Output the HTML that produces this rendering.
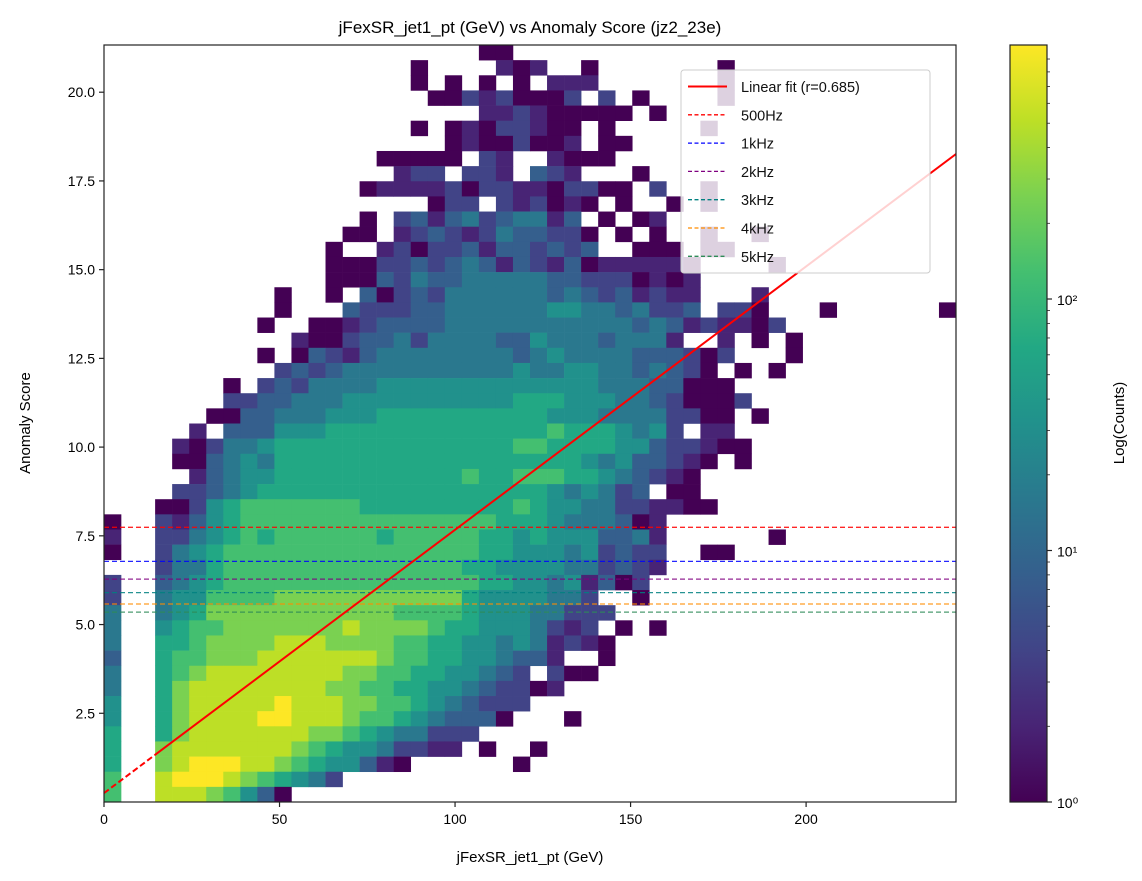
<!DOCTYPE html>
<html><head><meta charset="utf-8">
<style>
html,body{margin:0;padding:0;background:#fff;}
svg{display:block;font-family:"Liberation Sans","DejaVu Sans",sans-serif;}
</style></head>
<body>
<svg id="chart" width="1142" height="881" viewBox="0 0 1142 881" xmlns="http://www.w3.org/2000/svg">
<defs>
<linearGradient id="vir" x1="0" y1="1" x2="0" y2="0">
<stop offset="0" stop-color="#440154"/><stop offset="0.1" stop-color="#482475"/>
<stop offset="0.2" stop-color="#414487"/><stop offset="0.3" stop-color="#355f8d"/>
<stop offset="0.4" stop-color="#2a788e"/><stop offset="0.5" stop-color="#21918c"/>
<stop offset="0.6" stop-color="#22a884"/><stop offset="0.7" stop-color="#44bf70"/>
<stop offset="0.8" stop-color="#7ad151"/><stop offset="0.9" stop-color="#bddf26"/>
<stop offset="1" stop-color="#fde725"/>
</linearGradient>
<clipPath id="plotclip"><rect x="104" y="45" width="852" height="757"/></clipPath>
</defs>
<text x="530" y="33" text-anchor="middle" font-size="17">jFexSR_jet1_pt (GeV) vs Anomaly Score (jz2_23e)</text>
<g id="cells" clip-path="url(#plotclip)"></g>
<g id="lines" clip-path="url(#plotclip)"></g>
<g id="legend"></g>
<rect x="104" y="45" width="852" height="757" fill="none" stroke="#222" stroke-width="1.2"/>
<g id="axes"></g>
<text x="530" y="862" text-anchor="middle" font-size="15">jFexSR_jet1_pt (GeV)</text>
<text transform="translate(30,423) rotate(-90)" text-anchor="middle" font-size="15">Anomaly Score</text>
<rect x="1010" y="45" width="37" height="757" fill="url(#vir)" stroke="#222" stroke-width="1.2"/>
<g id="cbar"></g>
<text transform="translate(1124,423) rotate(-90)" text-anchor="middle" font-size="15">Log(Counts)</text>
</svg>
<script>
// ---- data ----
const xTicks = [0, 50, 100, 150, 200];
const yTicks = [2.5, 5.0, 7.5, 10.0, 12.5, 15.0, 17.5, 20.0];
const cbarTicks = [0, 1, 2];
const fitIntercept = 0.25;
const fitSlope = 0.0742;
const fitR = 0.685;
const thresholdNames = ["500Hz", "1kHz", "2kHz", "3kHz", "4kHz", "5kHz"];
const thresholdValues = [7.74, 6.78, 6.28, 5.90, 5.58, 5.35];
const thresholdColors = ["#ff0000", "#0000ff", "#800080", "#008080", "#ff8c00", "#2e8b57"];
// log-count level per cell (0..10 => log10(count)/maxDecades*10); rows top->bottom, [startCol, levels]
const levelRows = [
[22,"00"],
[18,"0....101..0.......0"],
[18,"0.0.0.0.111.......0"],
[19,"002120002.2.0....0"],
[22,"112100000.0"],
[18,"0.01022100.0.....0"],
[20,"01002001.00"],
[16,"00000.21..1000"],
[17,"122.221.321...0"],
[15,"0111120221102200.2..0"],
[19,"022.212010.0..0.0"],
[15,"0.23134234413.0.01"],
[14,"00.123212433220.0.0..0..0"],
[13,"0..1202231332323..000.00"],
[13,"0002232343132130111110....0"],
[13,"0003243344444332220101"],
[10,"0..0.30232444444343231211...1"],
[10,"0...322233444444554434223.220...0......0"],
[9,"0..0012333344444444444343121102"],
[11,"10023342444433544434441..1.0.0"],
[9,"0.03213444444443454444333202...0"],
[10,"23234444444444544554434320.0.0"],
[7,"0.2324444555555555555544433000"],
[7,"2233444555555555566655544320002"],
[6,"0033444555666666666655544442200.0"],
[5,"1.3335556666666666666766654521 2.11".replace("1 2","")],
[4,"1024456666666666666677666655322100"],
[4,"00345466666666666666666654533210.0"],
[5,"134556666666666676677766543210"],
[4,"2234566666666666666666545423.00"],
[3,"002567777777666666666765544221100"],
[0,"0..213567777777777777776665444301"],
[0,"1..224567677777767777766565553341......0"],
[0,"0..245677777777777777766555452322..00"],
[3,"244677777777777777665555442321"],
[0,"2..34567777777777777776655451302"],
[0,"2..45577778888888888865555442..0"],
[0,"4..456888888888887777655544222"],
[0,"4..56778888888988887665554212.0.0"],
[0,"4..667888899988887766554541210"],
[0,"3..677888999999987766554331..0"],
[0,"4..6789999999988776655432.200"],
[0,"4..689999999988776655432201"],
[0,"5..6899999a99988776543222"],
[0,"5..689999aa9998776543330...0"],
[0,"6..6899999998876544222"],
[0,"6..89999999876554221 1.0..0".replace(" ","")],
[0,"6..89aaa9987655310......0"],
[0,"7..9aaa9876542"],
[0,"7..99987530"]
];
// ---- geometry ----
const X0=104,X1=956,Y0=45,Y1=802, XMIN=0,XMAX=242.7,YMIN=0,YMAX=21.33, NB=50;
const xs=v=>X0+(v-XMIN)/(XMAX-XMIN)*(X1-X0);
const ys=v=>Y1-(v-YMIN)/(YMAX-YMIN)*(Y1-Y0);
const NS="http://www.w3.org/2000/svg";
function mk(tag,attrs,parent){const e=document.createElementNS(NS,tag);for(const k in attrs)e.setAttribute(k,attrs[k]);parent.appendChild(e);return e;}
const V=[[68,1,84],[72,36,117],[65,68,135],[53,95,141],[42,120,142],[33,145,140],[34,168,132],[68,191,112],[122,209,81],[189,223,38],[253,231,37]];
const VS=[0,0.1,0.2,0.3,0.4,0.5,0.6,0.7,0.8,0.9,1.0];
function vir(t){t=Math.max(0,Math.min(1,t));for(let i=0;i<VS.length-1;i++){if(t<=VS[i+1]){const f=(t-VS[i])/(VS[i+1]-VS[i]);const c=V[i].map((a,k)=>Math.round(a+(V[i+1][k]-a)*f));return `rgb(${c[0]},${c[1]},${c[2]})`;}}return "rgb(253,231,37)";}
// ---- cells ----
const gC=document.getElementById('cells');
const bw=(XMAX-XMIN)/NB, bh=(YMAX-YMIN)/NB;
levelRows.forEach((r,j)=>{
  const yb=NB-1-j; const start=r[0], s=r[1];
  for(let k=0;k<s.length;k++){
    const ch=s[k]; if(ch==='.'||ch===' ')continue;
    const lv=parseInt(ch,36); const col=start+k;
    const x0=xs(XMIN+col*bw), x1=xs(XMIN+(col+1)*bw), yt=ys(YMIN+(yb+1)*bh), ybt=ys(YMIN+yb*bh);
    const e=mk('rect',{x:x0.toFixed(2),y:yt.toFixed(2),width:(x1-x0+0.3).toFixed(2),height:(ybt-yt+0.3).toFixed(2),fill:vir(lv/10)},gC);
    
    
  }
});
// ---- lines ----
const gL=document.getElementById('lines');
thresholdValues.forEach((v,i)=>{
  const e=mk('line',{x1:X0,x2:X1,y1:ys(v),y2:ys(v),stroke:thresholdColors[i],'stroke-width':1.3,'stroke-dasharray':'5,3','stroke-opacity':0.85},gL);
  
  
});
const xSplit=14.5;
let e1=mk('line',{x1:xs(0),y1:ys(fitIntercept),x2:xs(xSplit),y2:ys(fitIntercept+fitSlope*xSplit),stroke:'#ff0000','stroke-width':2,'stroke-dasharray':'6,3'},gL);


let e2=mk('line',{x1:xs(xSplit),y1:ys(fitIntercept+fitSlope*xSplit),x2:xs(XMAX),y2:ys(fitIntercept+fitSlope*XMAX),stroke:'#ff0000','stroke-width':2},gL);


// ---- axes ----
const gA=document.getElementById('axes');
xTicks.forEach(v=>{
  const x=xs(v);
  const t=mk('line',{x1:x,x2:x,y1:Y1,y2:Y1+5,stroke:'#222','stroke-width':1.2},gA);
  
  
  const l=mk('text',{x:x,y:Y1+22,'text-anchor':'middle','font-size':14},gA);l.textContent=String(v);
  
  
});
yTicks.forEach(v=>{
  const y=ys(v);
  const t=mk('line',{x1:X0-5,x2:X0,y1:y,y2:y,stroke:'#222','stroke-width':1.2},gA);
  
  
  const l=mk('text',{x:X0-9,y:y+5,'text-anchor':'end','font-size':14},gA);l.textContent=v.toFixed(1);
  
  
});
// ---- colorbar ticks ----
const gB=document.getElementById('cbar');
const CB0=802,CB1=45,DEC=3.01;
const cby=d=>CB0-d/DEC*(CB0-CB1);
const sup=['⁰','¹','²'];
cbarTicks.forEach(d=>{
  const y=cby(d);
  const t=mk('line',{x1:1047,x2:1052,y1:y,y2:y,stroke:'#222','stroke-width':1.2},gB);
  
  
  const l=mk('text',{x:1057,y:y+6,'font-size':14},gB);l.textContent='10'+sup[d];
  
  
  for(let m=2;m<=9;m++){const dd=d+Math.log10(m);if(dd>DEC)break;const yy=cby(dd);
    const mt=mk('line',{x1:1047,x2:1050,y1:yy,y2:yy,stroke:'#222','stroke-width':0.8},gB);
    
    }
});
// ---- legend ----
const gG=document.getElementById('legend');
const lb=mk('rect',{x:681,y:70,width:249,height:203,rx:3,fill:'#fff','fill-opacity':0.82,stroke:'#ccc','stroke-width':1},gG);


const entries=[{n:`Linear fit (r=${fitR})`,c:'#ff0000',d:null,w:2}].concat(thresholdNames.map((n,i)=>({n:n,c:thresholdColors[i],d:'4,2.5',w:1.3})));
entries.forEach((en,i)=>{
  const y=86.5+i*28.3;
  const ln=mk('line',{x1:688,x2:727,y1:y,y2:y,stroke:en.c,'stroke-width':en.w},gG);
  if(en.d)ln.setAttribute('stroke-dasharray',en.d);
  
  
  const tx=mk('text',{x:741,y:y+5.5,'font-size':14.5,fill:'#111'},gG);tx.textContent=en.n;
  
  
});
</script>
</body></html>
